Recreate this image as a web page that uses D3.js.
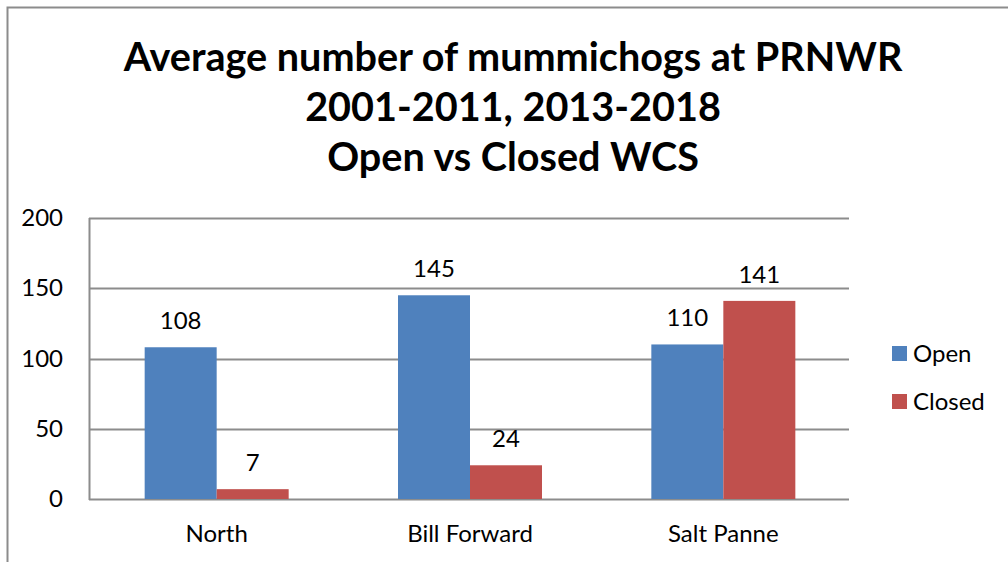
<!DOCTYPE html>
<html>
<head>
<meta charset="utf-8">
<script src="https://cdn.jsdelivr.net/npm/d3@7"></script>
<style>
  body { margin: 0; background: #fff; }
  svg { display: block; font-family: Lato, "Open Sans", sans-serif; }
</style>
</head>
<body>
<svg id="chart" width="1008" height="562"></svg>
<script>
// data
var titleLines = ["Average number of mummichogs at PRNWR", "2001-2011, 2013-2018", "Open vs Closed WCS"];
var sites = ["North", "Bill Forward", "Salt Panne"];
var seriesNames = ["Open", "Closed"];
var openVals = [108, 145, 110];
var closedVals = [7, 24, 141];
var yTicks = [0, 50, 100, 150, 200];
var colors = ["#4f81bd", "#c0504d"];

var svg = d3.select("#chart");

// outer frame (only left and top edges visible in the crop)
svg.append("path")
    .attr("d", "M7.5,562 L7.5,7.5 L1008,7.5")
    .attr("fill", "none")
    .attr("stroke", "#8c8c8c")
    .attr("stroke-width", 2);

// title
svg.append("g").selectAll("text")
    .data(titleLines)
    .enter().append("text")
    .attr("x", 513)
    .attr("y", function(d, i){ return 71 + i*50; })
    .attr("text-anchor", "middle")
    .style("font-size", "39.6px")
    .style("font-weight", "bold")
    .text(function(d){ return d; });

var pLeft = 89, pRight = 849, pTop = 218, pBottom = 499;

var x = d3.scaleBand().domain(sites).range([pLeft + 1, pRight + 1]);
var x1 = d3.scaleBand().domain(seriesNames).range([0, 144]);
var y = d3.scaleLinear().domain([0, 200]).range([pBottom, pTop]);

// gridlines
svg.append("g").selectAll("line")
    .data(yTicks)
    .enter().append("line")
    .attr("x1", pLeft).attr("x2", pRight)
    .attr("y1", function(d){ return Math.round(y(d)) + 0.5; })
    .attr("y2", function(d){ return Math.round(y(d)) + 0.5; })
    .attr("stroke", "#8c8c8c")
    .attr("stroke-width", 2);

// y axis line
svg.append("line")
    .attr("x1", pLeft + 0.5).attr("x2", pLeft + 0.5)
    .attr("y1", pTop).attr("y2", pBottom + 1)
    .attr("stroke", "#8c8c8c")
    .attr("stroke-width", 2);

// y tick labels
svg.append("g").selectAll("text")
    .data(yTicks)
    .enter().append("text")
    .attr("x", 63)
    .attr("y", function(d){ return y(d) + 8; })
    .attr("text-anchor", "end")
    .style("font-size", "24px")
    .text(function(d){ return d; });

var series = [openVals, closedVals];
var groupOffset = (x.bandwidth() - 144) / 2;

series.forEach(function(vals, si){
    var g = svg.append("g");
    g.selectAll("rect")
        .data(vals)
        .enter().append("rect")
        .attr("x", function(d, i){ return x(sites[i]) + groupOffset + x1(seriesNames[si]); })
        .attr("y", function(d){ return y(d); })
        .attr("width", x1.bandwidth())
        .attr("height", function(d){ return pBottom - y(d); })
        .attr("fill", colors[si]);
    g.selectAll("text")
        .data(vals)
        .enter().append("text")
        .attr("x", function(d, i){ return x(sites[i]) + groupOffset + x1(seriesNames[si]) + x1.bandwidth()/2; })
        .attr("y", function(d){ return y(d) - 18; })
        .attr("text-anchor", "middle")
        .style("font-size", "24px")
        .text(function(d){ return d; });
});

// category labels
svg.append("g").selectAll("text")
    .data(sites)
    .enter().append("text")
    .attr("x", function(d){ return x(d) + x.bandwidth()/2; })
    .attr("y", 542)
    .attr("text-anchor", "middle")
    .style("font-size", "24px")
    .text(function(d){ return d; });

// legend
var legend = svg.append("g").selectAll("g")
    .data(seriesNames)
    .enter().append("g")
    .attr("transform", function(d, i){ return "translate(892," + (346 + i*48) + ")"; });
legend.append("rect")
    .attr("width", 15).attr("height", 15)
    .attr("fill", function(d, i){ return colors[i]; });
legend.append("text")
    .attr("x", 21)
    .attr("y", 16)
    .style("font-size", "24px")
    .text(function(d){ return d; });
</script>
</body>
</html>
